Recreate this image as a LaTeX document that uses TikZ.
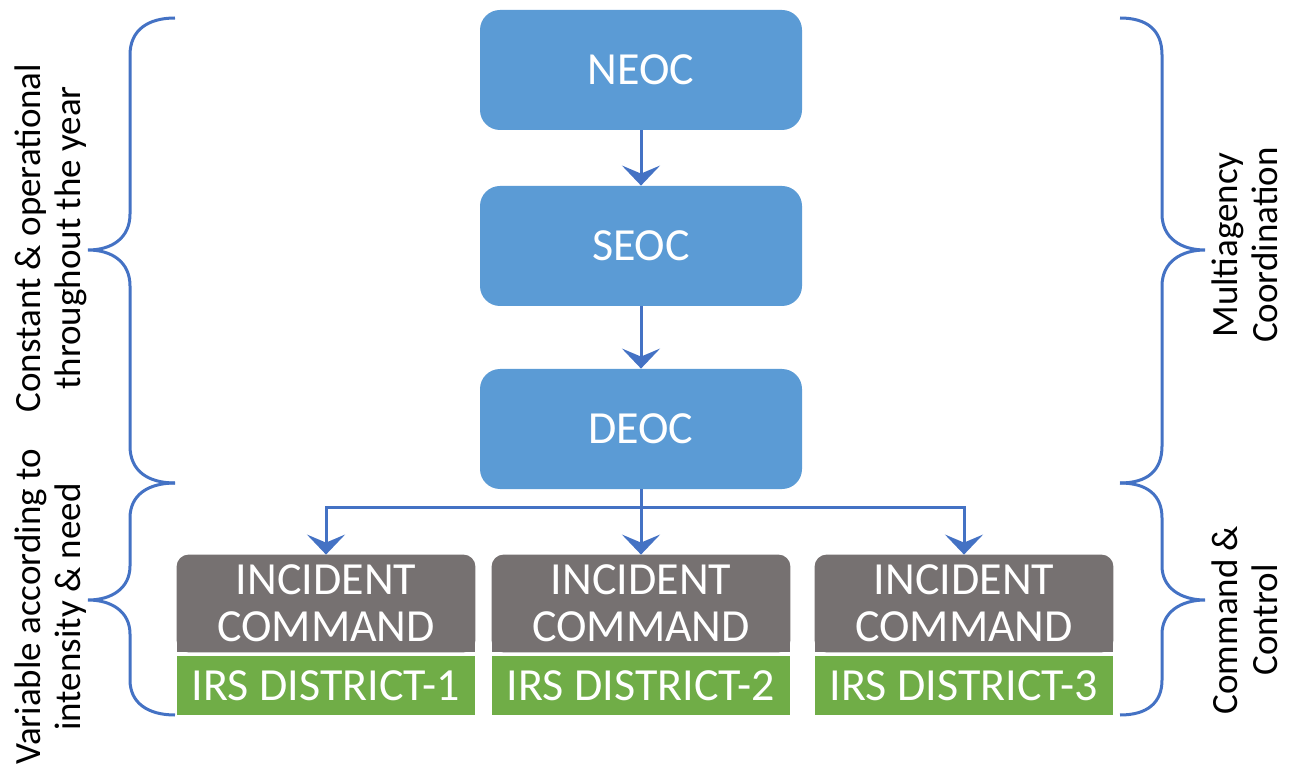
\documentclass[tikz,border=0pt]{standalone}
\usepackage{fontspec}
\setmainfont{Carlito}
\usetikzlibrary{arrows.meta,backgrounds}

\definecolor{eocblue}{HTML}{5B9BD5}
\definecolor{linkblue}{HTML}{4472C4}
\definecolor{cmdgray}{HTML}{767171}
\definecolor{irsgreen}{HTML}{70AD47}

\tikzset{
  eoc/.style={fill=eocblue, rounded corners=10pt, minimum width=161pt,
    minimum height=60pt, inner sep=0pt, text=white,
    font=\fontsize{23}{24}\selectfont},
  cmd/.style={minimum width=149pt, minimum height=48.5pt, inner sep=0pt,
    align=center, text=white, font=\fontsize{23}{23.5}\selectfont},
  irs/.style={fill=irsgreen, minimum width=149pt, minimum height=29.5pt,
    inner sep=0pt, text=white, font=\fontsize{23}{24}\selectfont},
  side/.style={rotate=90, align=center, inner sep=0pt,
    font=\fontsize{18.5}{20}\selectfont},
  link/.style={draw=linkblue, line width=1.5pt},
  flow/.style={link, -{Stealth[length=10pt, width=19pt, inset=4pt]}},
  curly/.style={draw=linkblue, line width=1.5pt},
}

\begin{document}
\begin{tikzpicture}[x=0.5pt, y=-0.5pt]
    \useasboundingbox (0, 0) rectangle (1289, 764);

    % EOC chain
    \node[eoc] (neoc) at (641, 70) {NEOC};
    \node[eoc] (seoc) at (641, 246) {SEOC};
    \node[eoc] (deoc) at (641, 429) {DEOC};

    % incident command blocks
    \foreach \i/\x in {1/326, 2/641, 3/964} {
        \node[cmd] (ic\i) at (\x, 603.5) {INCIDENT\\COMMAND};
        \node[irs] (irs\i) at (\x, 685.5) {IRS DISTRICT-\i};
        \begin{scope}[on background layer]
            \fill[cmdgray, rounded corners=6pt] (ic\i.south west) rectangle (ic\i.north east);
            \fill[cmdgray] (ic\i.south west) rectangle (ic\i.east);
        \end{scope}
    }

    \draw[flow] (neoc) -- (seoc);
    \draw[flow] (seoc) -- (deoc);

    \coordinate (fork) at (641, 507);
    \draw[link] (deoc) -- (fork);
    \draw[flow] (fork) -| (ic1);
    \draw[flow] (fork) -- (ic2);
    \draw[flow] (fork) -| (ic3);

    % braces, left side
    \draw[curly] (175, 18) .. controls (148, 18) and (130, 30) .. (130, 55)
        -- (130, 214) .. controls (130, 238) and (112, 250) .. (88, 250)
        .. controls (112, 250) and (130, 262) .. (130, 286)
        -- (130, 446) .. controls (130, 471) and (148, 483) .. (175, 483);
    \draw[curly] (175, 483) .. controls (148, 483) and (130, 495) .. (130, 518)
        -- (130, 566) .. controls (130, 588) and (112, 600) .. (88, 600)
        .. controls (112, 600) and (130, 612) .. (130, 634)
        -- (130, 680) .. controls (130, 703) and (148, 715) .. (175, 715);

    % braces, right side
    \draw[curly] (1120, 18) .. controls (1147, 18) and (1162, 30) .. (1162, 55)
        -- (1162, 214) .. controls (1162, 238) and (1181, 250) .. (1205, 250)
        .. controls (1181, 250) and (1162, 262) .. (1162, 286)
        -- (1162, 446) .. controls (1162, 471) and (1147, 483) .. (1120, 483);
    \draw[curly] (1120, 483) .. controls (1147, 483) and (1162, 495) .. (1162, 518)
        -- (1162, 566) .. controls (1162, 588) and (1181, 600) .. (1205, 600)
        .. controls (1181, 600) and (1162, 612) .. (1162, 634)
        -- (1162, 680) .. controls (1162, 703) and (1147, 715) .. (1120, 715);

    \node[side] (yearly) at (51, 238) {Constant \& operational\\throughout the year};
    \node[side] (onneed) at (51, 607) {Variable according to\\intensity \& need};
    \node[side] (macs) at (1245, 245) {Multiagency\\Coordination};
    \node[side] (cnc) at (1245, 620) {Command \&\\Control};
\end{tikzpicture}
\end{document}
